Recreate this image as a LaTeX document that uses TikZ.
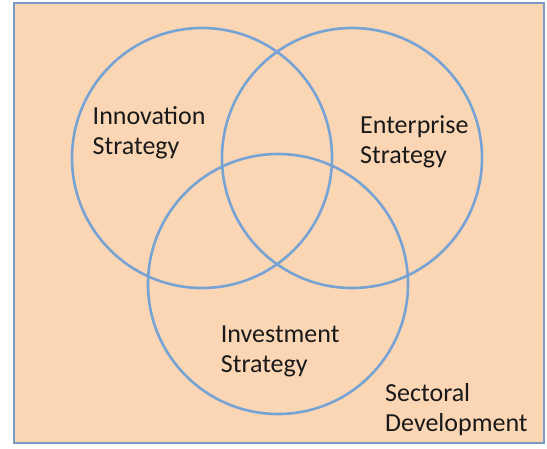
\documentclass[tikz,border=0pt]{standalone}
\usepackage{fontspec}
\setmainfont{Carlito}
\usetikzlibrary{positioning}
\definecolor{vennPeach}{RGB}{251, 214, 181}
\definecolor{vennFrame}{RGB}{122, 156, 196}
\definecolor{vennBlue}{RGB}{118, 163, 212}
\definecolor{vennText}{RGB}{25, 25, 25}

\begin{document}
\begin{tikzpicture}[
  x=1pt, y=-1pt,
  framebox/.style={draw=vennFrame, line width=2.5pt, fill=vennPeach, inner sep=0pt,
                   minimum width=530pt, minimum height=440pt},
  setcircle/.style={draw=vennBlue, line width=2.6pt, circle, minimum size=260pt, inner sep=0pt},
  setlabel/.style={anchor=base west, align=left, inner sep=0pt, text=vennText,
                   font=\fontsize{26}{30}\selectfont}
]
\useasboundingbox (0,0) rectangle (547,448);
\node[framebox] (frame) at (279,223) {};
\node[setcircle] (innovation) at (202,158) {};
\node[setcircle] (enterprise) at (352,158) {};
\node[setcircle] (investment) at (278,284) {};
% base anchor sits on the second line
\node[setlabel] (innovationtext) at (92.5,154) {Innovation\\Strategy};
\node[setlabel] (enterprisetext) at (360,163) {Enterprise\\Strategy};
\node[setlabel] (investmenttext) at (220.7,372) {Investment\\Strategy};
\node[setlabel] (sectoraltext) at (385,431.7) {Sectoral\\Development};
\end{tikzpicture}
\end{document}
